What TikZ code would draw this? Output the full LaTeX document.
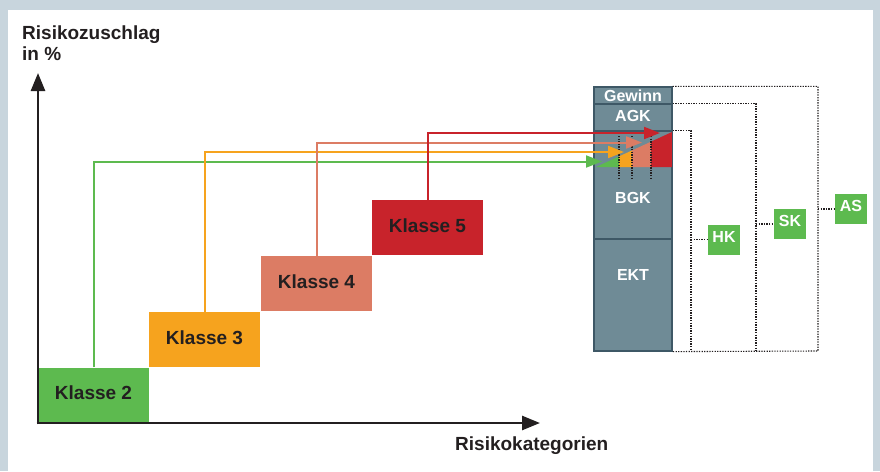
\documentclass[tikz,border=0pt]{standalone}
\usepackage{fontspec}
\setmainfont{Liberation Sans}
\usetikzlibrary{arrows.meta,positioning}

\definecolor{frame}{HTML}{C8D5DD}
\definecolor{txt}{HTML}{231F20}
\definecolor{colfill}{HTML}{6F8B96}
\definecolor{colline}{HTML}{3E5866}
\definecolor{kgreen}{HTML}{5DBA4F}
\definecolor{korange}{HTML}{F6A31E}
\definecolor{ksalmon}{HTML}{DC7C64}
\definecolor{kred}{HTML}{C8232B}

\begin{document}
\begin{tikzpicture}[x=1pt,y=-1pt]

\tikzset{klasse/.style={rectangle,minimum width=111pt,minimum height=55pt,inner sep=0pt,
    text=txt,font=\fontsize{19}{22}\selectfont\bfseries,text height=13pt,text depth=4pt},
  seg/.style={draw=colline,fill=colfill,line width=1.2pt,minimum width=78pt,inner sep=0pt},
  segtext/.style={text=white,font=\fontsize{16}{18}\selectfont\bfseries,inner sep=0pt},
  kbox/.style={fill=kgreen,minimum width=32pt,minimum height=30pt,inner sep=0pt,
    text=white,font=\fontsize{16}{18}\selectfont\bfseries,text height=11.5pt,text depth=6pt},
  riskarrow/.style={line width=2pt,-{Triangle[length=16pt,width=12pt]}},
  axis/.style={line width=2.6pt,txt,-{Triangle[length=18pt,width=14pt]}},
  bracket/.style={dash pattern=on 1.3pt off 1.3pt,line width=1.1pt,txt}}

  \useasboundingbox (0,0) rectangle (880,471);
  \fill[frame] (0,0) rectangle (880,471);
  \fill[white] (8,10) rectangle (873,471);

  % risk classes
  \node[klasse,fill=kgreen] (k2) at (93.5,395) {Klasse 2\hspace{6pt}};
  \node[klasse,fill=korange] (k3) at (204.5,339.5) {Klasse 3\hspace{6pt}};
  \node[klasse,fill=ksalmon] (k4) at (316.5,283.5) {Klasse 4\hspace{6pt}};
  \node[klasse,fill=kred] (k5) at (427.5,227.5) {Klasse 5\hspace{6pt}};

  % axes
  \coordinate (origin) at (38,423);
  \coordinate (ytip) at (38,73);
  \coordinate (xtip) at (540,423);
  \draw[axis] ([yshift=-1.3pt]origin) -- (ytip);
  \draw[axis] ([xshift=-1.3pt]origin) -- (xtip);
  \node[anchor=north west,inner sep=0pt,align=left,text=txt,
    font=\fontsize{19}{21}\selectfont\bfseries] (ylab) at (22,26) {Risikozuschlag\\in \%};
  \node[anchor=base west,inner sep=0pt,text=txt,
    font=\fontsize{19}{22}\selectfont\bfseries] (xlab) at (455,450.5) {Risikokategorien};

  % cost column
  \node[seg,minimum height=17pt] (gewinn) at (633,95.5) {};
  \node[seg,minimum height=27pt] (agk) at (633,117.5) {};
  \node[seg,minimum height=108pt] (bgk) at (633,185) {};
  \node[seg,minimum height=112pt] (ekt) at (633,295) {};
  \node[segtext] (tgewinn) at (633,95.5) {Gewinn};
  \node[segtext] (tagk) at (633,115.5) {AGK};
  \node[segtext] (tbgk) at (633,198) {BGK};
  \node[segtext] (tekt) at (633,274.5) {EKT};

  % risk wedge
  \begin{scope}
    \clip (596,167) -- (672,167) -- (672,132) -- cycle;
    \fill[kgreen] (596,130) rectangle (619,168);
    \fill[korange] (619,130) rectangle (632,168);
    \fill[ksalmon] (632,130) rectangle (651,168);
    \fill[kred] (651,130) rectangle (672,168);
  \end{scope}
  \foreach \x in {619,632,651}
    \draw[bracket] (\x,136) -- (\x,180);

  % surcharge arrows
  \coordinate (e2) at (602,161.5);
  \coordinate (e3) at (624,152);
  \coordinate (e4) at (642,142.5);
  \coordinate (e5) at (660,133);
  \draw[riskarrow,kgreen] (k2.north) |- (e2);
  \draw[riskarrow,korange] (k3.north) |- (e3);
  \draw[riskarrow,ksalmon] (k4.north) |- (e4);
  \draw[riskarrow,kred] (k5.north) |- (e5);

  % cost brackets
  \coordinate (hkx) at (691,351);
  \coordinate (skx) at (756,351);
  \coordinate (asx) at (818,351);
  \draw[bracket] (gewinn.north east) -| (asx) -- (ekt.south east);
  \draw[bracket] (agk.north east) -| (skx);
  \draw[bracket] (bgk.north east) -| (hkx);

  \node[kbox] (hk) at (724,239.5) {HK};
  \node[kbox] (sk) at (790,224) {SK};
  \node[kbox] (as) at (851,209) {AS};
  \draw[bracket] (hk.west -| hkx) -- (hk.west);
  \draw[bracket] (sk.west -| skx) -- (sk.west);
  \draw[bracket] (as.west -| asx) -- (as.west);

\end{tikzpicture}
\end{document}
